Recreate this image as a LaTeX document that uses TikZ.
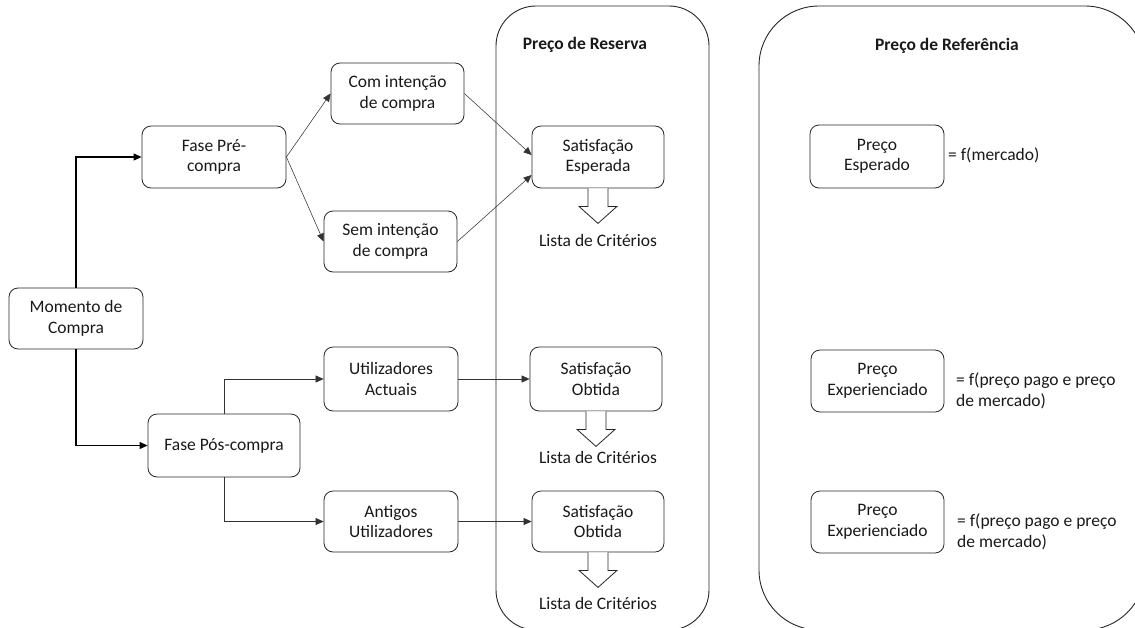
\documentclass[tikz,border=0pt]{standalone}
\usepackage{fontspec}
\setmainfont{Carlito}
\usetikzlibrary{arrows.meta,calc}
\begin{document}
\begin{tikzpicture}[x=1pt,y=-1pt,
  box/.style={draw=black!85,line width=0.8pt,rounded corners=9pt,align=center,
    font=\fontsize{17.5}{20.5}\selectfont,inner sep=2pt,text=black!90},
  plain/.style={font=\fontsize{17.5}{20.5}\selectfont,text=black!90},
  ttl/.style={font=\fontsize{17.5}{20.5}\selectfont\bfseries,text=black!90},
  cont/.style={draw=black!85,line width=0.9pt},
  thk/.style={draw=black,line width=1.1pt,-{Triangle[length=8pt,width=7pt]}},
  thn/.style={draw=black!80,line width=0.55pt,-{Triangle[length=8pt,width=7pt]}},
  blk/.style={draw=black!85,line width=0.8pt,fill=white}]
\useasboundingbox (0,0) rectangle (1135,627);
\clip (0,0) rectangle (1135,627);
% containers
\draw[cont,rounded corners=40pt] (496,6) rectangle (709,630);
\draw[cont,rounded corners=60pt] (759,6) rectangle (1145,630);
\node[ttl] (tres) at (585,45) {Preço de Reserva};
\node[ttl] (tref) at (947,46) {Preço de Referência};
% nodes
\node[box,minimum width=134pt,minimum height=61pt] (mom) at (76,318.5) {Momento de\\Compra};
\node[box,minimum width=144pt,minimum height=62pt] (pre) at (214,157) {Fase Pré-\\compra};
\node[box,minimum width=152pt,minimum height=63pt] (pos) at (224,445.5) {Fase Pós-compra};
\node[box,minimum width=133pt,minimum height=61pt] (com) at (397.5,93.5) {Com intenção\\de compra};
\node[box,minimum width=133pt,minimum height=61pt] (sem) at (390.5,241.5) {Sem intenção\\de compra};
\node[box,minimum width=132pt,minimum height=62pt] (se) at (598,157) {Satisfação\\Esperada};
\node[box,minimum width=134pt,minimum height=64pt] (ua) at (391,379) {Utilizadores\\Actuais};
\node[box,minimum width=134pt,minimum height=61pt] (au) at (391,521.5) {Antigos\\Utilizadores};
\node[box,minimum width=132pt,minimum height=64pt] (so1) at (596,379) {Satisfação\\Obtida};
\node[box,minimum width=132pt,minimum height=61pt] (so2) at (598,521.5) {Satisfação\\Obtida};
\node[box,minimum width=134pt,minimum height=63pt] (pe) at (877,156.5) {Preço\\Esperado};
\node[box,minimum width=133pt,minimum height=62pt] (px1) at (877.5,381) {Preço\\Experienciado};
\node[box,minimum width=133pt,minimum height=62pt] (px2) at (877.5,522) {Preço\\Experienciado};
% f texts
\node[plain,anchor=west,inner sep=0pt] (f1) at (948,155) {= f(mercado)};
\node[plain,anchor=west,align=left,inner sep=0pt] (f2) at (956,391) {= f(preço pago e preço\\de mercado)};
\node[plain,anchor=west,align=left,inner sep=0pt] (f3) at (957,532) {= f(preço pago e preço\\de mercado)};
% block arrows
\foreach \b in {se,so1,so2}{
  \draw[blk] ($(\b.south)+(-10,0)$) -- ++(0,18) -- ++(-9,0) -- ($(\b.south)+(0,35)$)
    -- ($(\b.south)+(19,18)$) -- ++(-9,0) -- ($(\b.south)+(10,0)$);
}
\node[plain] (l1) at (598,240) {Lista de Critérios};
\node[plain] (l2) at (598,457) {Lista de Critérios};
\node[plain] (l3) at (598,603) {Lista de Critérios};
% connectors
\draw[thk] (mom.north) |- (pre.west);
\draw[thk] (mom.south) |- (pos.west);
\draw[thn] (pre.east) -- (com.west);
\draw[thn] (pre.east) -- (sem.west);
\draw[thn] (com.east) -- ($(se.west)+(0,-2)$);
\draw[thn] (sem.east) -- ($(se.west)+(0,18)$);
\draw[thn] (pos.north) |- (ua.west);
\draw[thn] (pos.south) |- (au.west);
\draw[thn] (ua.east) -- (so1.west);
\draw[thn] (au.east) -- (so2.west);
\end{tikzpicture}
\end{document}
